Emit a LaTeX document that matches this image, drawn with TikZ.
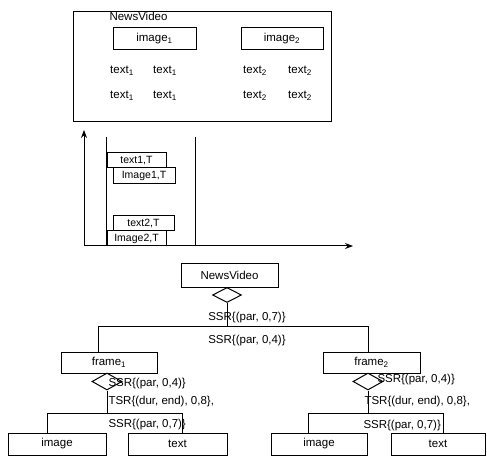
\documentclass[tikz,border=0pt]{standalone}
\usepackage{fontspec}
\setmainfont{Liberation Sans}
\usetikzlibrary{positioning,arrows.meta,shapes.geometric}

\begin{document}
\begin{tikzpicture}[
    x=1pt, y=-1pt,
    line width=1pt,
    box/.style={draw, minimum height=22pt, inner sep=0pt, font=\fontsize{11.5}{13}\selectfont},
    tbox/.style={draw, fill=white, minimum height=15pt, inner sep=0pt, font=\fontsize{10.5}{12}\selectfont},
    lab/.style={inner sep=0pt, font=\fontsize{11.5}{13}\selectfont},
    rel/.style={diamond, draw, aspect=2, inner sep=0pt, minimum width=29pt, minimum height=15pt},
    arrow/.style={->, >={Stealth[length=8pt, width=6pt]}}
]
\useasboundingbox (0,0) rectangle (487,462);

% Scene
\node[draw, minimum width=258pt, minimum height=110pt, inner sep=0pt] (scene) at (202,67) {};
\node[lab, anchor=west] (scenelab) at (109,16) {NewsVideo};
\node[box, minimum width=83pt] (img1) at (154.5,39) {image\textsubscript{1}};
\node[box, minimum width=82pt] (img2) at (282,39) {image\textsubscript{2}};
\foreach \y [count=\r] in {71,96} {
    \node[lab] (ta\r) at (122,\y) {text\textsubscript{1}};
    \node[lab] (tb\r) at (165,\y) {text\textsubscript{1}};
    \node[lab] (tc\r) at (255,\y) {text\textsubscript{2}};
    \node[lab] (td\r) at (300,\y) {text\textsubscript{2}};
}

% Timeline
\coordinate (origin) at (84,246);
\coordinate (ytop) at (84,130);
\coordinate (xend) at (353,246);
\coordinate (s1) at (106,137);
\coordinate (e1) at (195,137);
\draw (s1) -- (s1 |- origin);
\draw (e1) -- (e1 |- origin);
\node[tbox, minimum width=59pt] (t1) at (136.5,160.5) {text1,T};
\node[tbox, minimum width=62pt, minimum height=16pt] (i1) at (144,176) {Image1,T};
\node[tbox, minimum width=61pt] (t2) at (143.5,223.5) {text2,T};
\node[tbox, minimum width=59pt] (i2) at (136.5,238.5) {Image2,T};
\draw[arrow] (origin) -- (ytop);
\draw[arrow] (origin) -- (xend);

% Tree
\node[box, minimum width=97pt, minimum height=23pt] (root) at (229.5,275.5) {NewsVideo};
\node[rel] (rroot) at (227,295) {};
\coordinate (jroot) at (227,326);
\coordinate (bl) at (98,326);
\coordinate (br) at (368,326);
\node[lab] (ssr0) at (247,318) {SSR\{(par, 0,7)\}};
\node[lab] (ssr1) at (247,341) {SSR\{(par, 0,4)\}};

\node[box, minimum width=96pt, minimum height=21pt] (f1) at (109,362.5) {frame\textsubscript{1}};
\node[box, minimum width=97pt, minimum height=21pt] (f2) at (371.5,362.5) {frame\textsubscript{2}};
\node[rel, minimum width=30pt, minimum height=17pt] (r1) at (107,381.5) {};
\node[rel, minimum width=30pt, minimum height=17pt] (r2) at (368,381.5) {};

% Frame 1 children
\coordinate (j1) at (107,413);
\coordinate (l1) at (47,413);
\coordinate (m1) at (182,413);
\node[lab, anchor=west] (ssra1) at (108,384) {SSR\{(par, 0,4)\}};
\node[lab, anchor=west] (tsr1) at (108,402) {TSR\{(dur, end), 0,8\},};
\node[lab, anchor=west] (ssrb1) at (108,425) {SSR\{(par, 0,7)\}};
\node[box, minimum width=98pt] (im1) at (57,444) {image};
\node[box, minimum width=99pt] (tx1) at (177.5,444) {text};

% Frame 2 children
\coordinate (j2) at (368,413);
\coordinate (l2) at (308,413);
\coordinate (m2) at (443,413);
\node[lab, anchor=west] (ssra2) at (377,380) {SSR\{(par, 0,4)\}};
\node[lab, anchor=west] (tsr2) at (364,402) {TSR\{(dur, end), 0,8\},};
\node[lab, anchor=west] (ssrb2) at (363,426) {SSR\{(par, 0,7)\}};
\node[box, minimum width=96pt] (im2) at (319,444) {image};
\node[box, minimum width=94pt] (tx2) at (438,444) {text};

% Connectors
\draw (rroot.south) -- (jroot);
\draw (bl |- f1.north) -- (bl) -- (br) -- (br |- f2.north);
\draw (r1.south) -- (j1);
\draw (l1 |- im1.north) -- (l1) -- (m1) -- (m1 |- tx1.north);
\draw (r2.south) -- (j2);
\draw (l2 |- im2.north) -- (l2) -- (m2) -- (m2 |- tx2.north);
\end{tikzpicture}
\end{document}
